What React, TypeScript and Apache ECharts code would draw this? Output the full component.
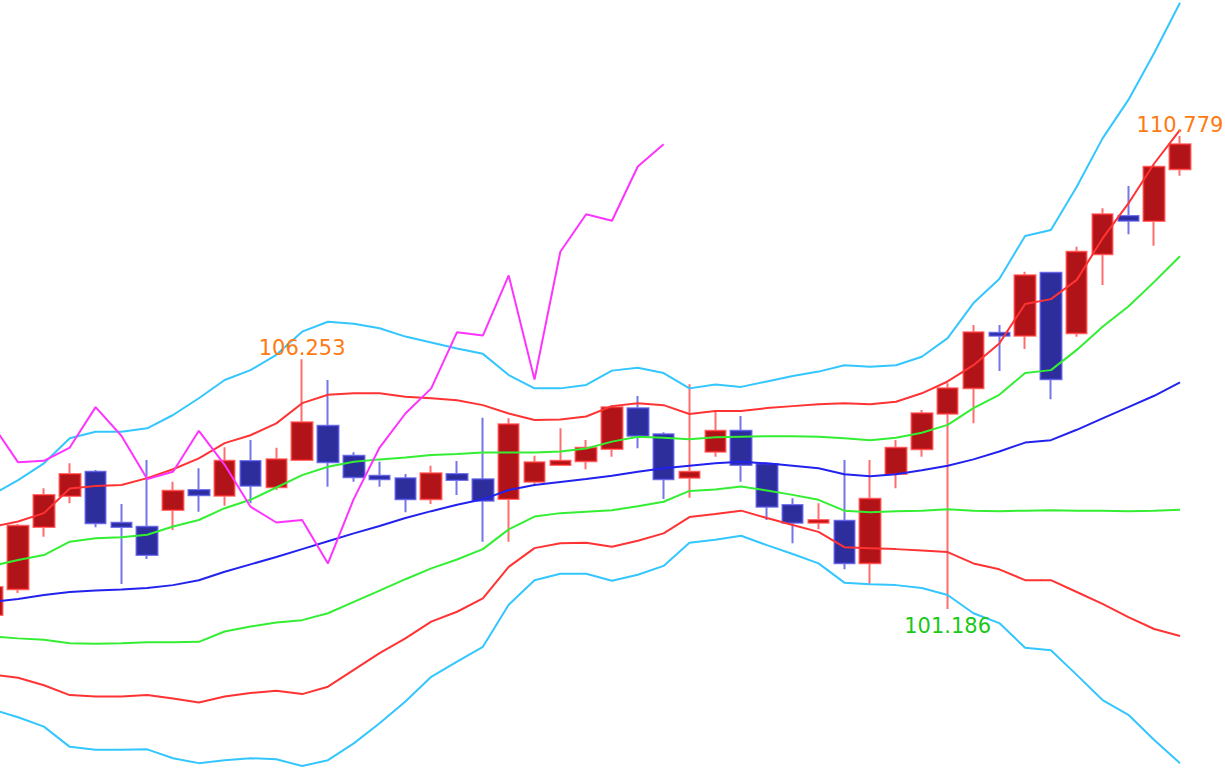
import React, { useEffect, useRef } from "react";
import * as echarts from "echarts";

// 47 periods (the first one is only partly visible at the left edge)
const categories = [
  "1", "2", "3", "4", "5", "6", "7", "8", "9", "10",
  "11", "12", "13", "14", "15", "16", "17", "18", "19", "20",
  "21", "22", "23", "24", "25", "26", "27", "28", "29", "30",
  "31", "32", "33", "34", "35", "36", "37", "38", "39", "40",
  "41", "42", "43", "44", "45", "46", "47",
];

const opens = [
  101.064, 101.585, 102.848, 103.477, 103.970, 102.936, 102.855, 103.193, 103.599, 103.483,
  104.187, 103.653, 104.207, 104.903, 104.294, 103.889, 103.836, 103.410, 103.923, 103.816,
  103.416, 103.767, 104.106, 104.181, 104.430, 105.256, 104.728, 103.848, 104.376, 104.801,
  104.126, 103.295, 102.936, 102.976, 102.112, 103.923, 104.424, 105.146, 105.661, 106.789,
  106.728, 108.006, 106.777, 108.379, 109.156, 109.054, 110.103,
];
const closes = [
  101.632, 102.875, 103.497, 103.923, 102.923, 102.848, 102.281, 103.585, 103.491, 104.193,
  103.686, 104.221, 104.972, 104.160, 103.856, 103.816, 103.410, 103.937, 103.802, 103.382,
  104.931, 104.160, 104.193, 104.457, 105.276, 104.700, 103.816, 103.970, 104.801, 104.106,
  103.260, 102.936, 102.990, 102.112, 103.422, 104.457, 105.154, 105.661, 106.797, 106.728,
  107.953, 105.844, 108.432, 109.190, 109.060, 110.155, 110.610,
];
const lows = [
  101.023, 101.510, 102.652, 103.329, 102.842, 101.692, 102.199, 102.788, 103.159, 103.280,
  103.329, 103.599, 104.187, 103.666, 103.767, 103.666, 103.147, 103.315, 103.497, 102.550,
  102.550, 103.720, 104.096, 104.019, 104.274, 104.444, 103.416, 103.443, 104.274, 103.767,
  102.990, 102.518, 102.802, 101.991, 101.692, 103.633, 104.274, 101.186, 104.951, 106.012,
  106.458, 105.438, 106.708, 107.756, 108.784, 108.553, 109.973,
];
const highs = [
  101.672, 102.909, 103.633, 104.140, 104.004, 103.315, 104.207, 103.767, 104.039, 104.465,
  104.613, 104.457, 106.253, 105.830, 104.363, 104.173, 103.923, 104.092, 104.187, 105.065,
  105.053, 104.294, 104.850, 104.613, 105.323, 105.505, 104.769, 105.742, 105.201, 105.100,
  104.140, 103.430, 103.329, 104.207, 104.207, 104.613, 105.221, 105.763, 106.945, 106.945,
  108.026, 108.020, 108.533, 109.312, 109.764, 110.190, 110.779,
];

// Bollinger bands
const bandMid = [
  101.33, 101.39, 101.47, 101.53, 101.56, 101.58, 101.61, 101.67, 101.77, 101.94,
  102.09, 102.24, 102.40, 102.56, 102.72, 102.87, 103.03, 103.17, 103.30, 103.41,
  103.60, 103.70, 103.76, 103.82, 103.89, 103.97, 104.04, 104.09, 104.14, 104.17,
  104.14, 104.09, 104.04, 103.92, 103.88, 103.92, 104.00, 104.09, 104.22, 104.38,
  104.56, 104.61, 104.82, 105.05, 105.28, 105.51, 105.78,
];
const bandUp1 = [
  102.06, 102.18, 102.28, 102.55, 102.62, 102.64, 102.69, 102.86, 102.99, 103.23,
  103.40, 103.65, 103.90, 104.07, 104.17, 104.22, 104.26, 104.31, 104.33, 104.36,
  104.36, 104.36, 104.38, 104.44, 104.58, 104.68, 104.66, 104.63, 104.67, 104.68,
  104.69, 104.69, 104.68, 104.65, 104.61, 104.66, 104.76, 104.92, 105.26, 105.53,
  105.97, 106.03, 106.44, 106.91, 107.32, 107.82, 108.34,
];
const bandDn1 = [
  100.63, 100.59, 100.56, 100.49, 100.48, 100.49, 100.51, 100.51, 100.52, 100.73,
  100.83, 100.91, 100.96, 101.10, 101.33, 101.56, 101.79, 102.01, 102.19, 102.40,
  102.80, 103.06, 103.13, 103.16, 103.19, 103.27, 103.36, 103.58, 103.61, 103.67,
  103.59, 103.50, 103.40, 103.18, 103.15, 103.17, 103.18, 103.21, 103.18, 103.17,
  103.18, 103.19, 103.18, 103.18, 103.17, 103.18, 103.20,
];
const bandUp2 = [
  102.85, 102.96, 103.13, 103.63, 103.68, 103.70, 103.84, 104.02, 104.24, 104.55,
  104.71, 104.95, 105.36, 105.53, 105.56, 105.56, 105.49, 105.46, 105.42, 105.32,
  105.15, 105.02, 105.03, 105.09, 105.30, 105.36, 105.32, 105.14, 105.20, 105.20,
  105.26, 105.30, 105.34, 105.36, 105.34, 105.39, 105.56, 105.80, 106.13, 106.57,
  107.37, 107.47, 107.86, 108.70, 109.41, 110.22, 110.90,
];
const bandDn2 = [
  99.86, 99.79, 99.64, 99.44, 99.41, 99.41, 99.44, 99.37, 99.29, 99.41,
  99.48, 99.53, 99.46, 99.61, 99.95, 100.29, 100.59, 100.93, 101.13, 101.40,
  102.04, 102.42, 102.52, 102.53, 102.45, 102.57, 102.72, 103.05, 103.11, 103.18,
  103.03, 102.89, 102.75, 102.44, 102.42, 102.40, 102.37, 102.34, 102.11, 101.99,
  101.77, 101.77, 101.53, 101.29, 101.02, 100.78, 100.64,
];
const bandUp3 = [
  103.50, 103.80, 104.14, 104.65, 104.78, 104.78, 104.85, 105.12, 105.46, 105.83,
  106.03, 106.34, 106.81, 107.01, 106.97, 106.88, 106.71, 106.59, 106.47, 106.36,
  105.93, 105.66, 105.66, 105.73, 106.02, 106.08, 105.97, 105.66, 105.74, 105.69,
  105.80, 105.91, 106.00, 106.13, 106.10, 106.13, 106.30, 106.68, 107.39, 107.88,
  108.75, 108.87, 109.75, 110.73, 111.51, 112.46, 113.48,
];
const bandDn3 = [
  99.15, 98.99, 98.80, 98.39, 98.33, 98.33, 98.34, 98.16, 98.06, 98.12,
  98.16, 98.14, 98.00, 98.12, 98.46, 98.87, 99.31, 99.81, 100.12, 100.42,
  101.27, 101.77, 101.90, 101.90, 101.76, 101.88, 102.06, 102.53, 102.59, 102.67,
  102.48, 102.30, 102.11, 101.72, 101.69, 101.67, 101.61, 101.47, 101.10, 100.90,
  100.40, 100.35, 99.85, 99.34, 99.04, 98.53, 98.06,
];

// lagging span (ends 20 periods before the last candle)
const laggingSpan = [
  104.93, 104.16, 104.19, 104.46, 105.28, 104.70, 103.82, 103.97, 104.80, 104.11,
  103.26, 102.94, 102.99, 102.11, 103.42, 104.46, 105.15, 105.66, 106.80, 106.73,
  107.95, 105.84, 108.43, 109.19, 109.06, 110.16, 110.61, null, null, null,
  null, null, null, null, null, null, null, null, null, null,
  null, null, null, null, null, null, null,
];

// marked extremes: [category index, value, text]
const markHigh1 = { index: 12, value: 106.253, text: "106.253" };
const markHigh2 = { index: 46, value: 110.779, text: "110.779" };
const markLow = { index: 37, value: 101.186, text: "101.186" };

const yMin = 97.941;
const yMax = 113.536;

function lineSeries(name: string, data: (number | null)[], color: string) {
  return {
    name,
    type: "line",
    data,
    symbol: "none",
    silent: true,
    z: 3,
    lineStyle: { color, width: 2 },
    itemStyle: { color },
    emphasis: { disabled: true },
  };
}

export default function App() {
  const ref = useRef<HTMLDivElement>(null);

  useEffect(() => {
    if (!ref.current) return;
    const chart = echarts.init(ref.current, undefined, { renderer: "svg" });
    const candleData = opens.map((o, i) => [o, closes[i], lows[i], highs[i]]);
    const labelBase = {
      show: true,
      fontSize: 21,
      fontFamily: "DejaVu Sans",
    };
    const option = {
      animation: false,
      backgroundColor: "#ffffff",
      grid: { left: 0.39, right: 32.07, top: 0, bottom: 0, containLabel: false },
      xAxis: {
        type: "category",
        data: categories,
        show: false,
        boundaryGap: true,
      },
      yAxis: {
        type: "value",
        min: yMin,
        max: yMax,
        show: false,
        splitLine: { show: false },
      },
      series: [
        {
          name: "price",
          type: "candlestick",
          data: candleData,
          barWidth: 21,
          silent: true,
          z: 2,
          itemStyle: {
            color: "#b01418",
            color0: "#2d2d9b",
            borderColor: "rgba(255,30,30,0.65)",
            borderColor0: "rgba(60,60,220,0.7)",
            borderWidth: 2,
          },
          markPoint: {
            symbol: "circle",
            symbolSize: 1,
            silent: true,
            itemStyle: { color: "rgba(0,0,0,0)" },
            data: [
              {
                coord: [markHigh1.index, markHigh1.value],
                label: { ...labelBase, position: "top", distance: 0, color: "#ff7a10", formatter: markHigh1.text },
              },
              {
                coord: [markHigh2.index, markHigh2.value],
                label: { ...labelBase, position: "top", distance: 0, color: "#ff7a10", formatter: markHigh2.text },
              },
              {
                coord: [markLow.index, markLow.value],
                label: { ...labelBase, position: "bottom", distance: 6, color: "#19c819", formatter: markLow.text },
              },
            ],
          },
        },
        lineSeries("+3σ", bandUp3, "#33c6ff"),
        lineSeries("-3σ", bandDn3, "#33c6ff"),
        lineSeries("+2σ", bandUp2, "#ff3333"),
        lineSeries("-2σ", bandDn2, "#ff3333"),
        lineSeries("+1σ", bandUp1, "#33ee33"),
        lineSeries("-1σ", bandDn1, "#33ee33"),
        lineSeries("mid", bandMid, "#2222ee"),
        lineSeries("lag", laggingSpan, "#ff33ff"),
      ],
    };
    chart.setOption(option as any);
    return () => chart.dispose();
  }, []);

  return (
    <div
      style={{
        position: "absolute",
        left: 0,
        top: 0,
        width: 1225,
        height: 769,
        overflow: "hidden",
        background: "#ffffff",
      }}
    >
      <div
        ref={ref}
        style={{ position: "absolute", left: -21, top: 0, width: 1246, height: 769 }}
      />
    </div>
  );
}
